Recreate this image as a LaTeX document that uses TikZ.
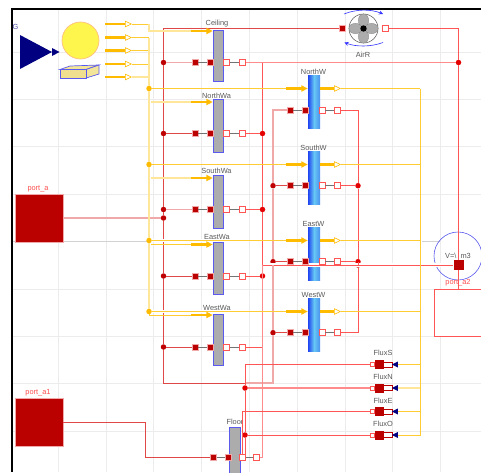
\documentclass[tikz,border=0pt]{standalone}
\usepackage{xcolor}
\usepackage{fontspec}
\setmainfont{Liberation Sans}
\usetikzlibrary{positioning,arrows.meta,shapes.geometric,calc}

\definecolor{heat}{HTML}{BB0000}
\definecolor{wirered}{HTML}{FF5555}
\definecolor{wirebrick}{HTML}{E04848}
\definecolor{wirepale}{HTML}{F0A8A8}
\definecolor{solar}{HTML}{FFCC33}
\definecolor{solarpale}{HTML}{FFE699}
\definecolor{solarthick}{HTML}{FFBB00}
\definecolor{wallblue}{HTML}{5A5AEE}
\definecolor{navyin}{HTML}{000080}
\definecolor{glassedge}{HTML}{2044F0}
\definecolor{glassside}{HTML}{4A90EE}
\definecolor{glassmid}{HTML}{66C8F5}

\begin{document}
\begin{tikzpicture}[
  x=1pt, y=-1pt,
  gridline/.style={draw=gray!15, line width=0.8pt},
  frameline/.style={draw=black, line width=2pt},
  wall/.style={rectangle, draw=wallblue, fill=gray!65, line width=0.8pt, minimum width=10.5pt, inner sep=0pt},
  glazing/.style={rectangle, left color=glassedge, right color=glassside, middle color=glassmid, minimum width=12pt, inner sep=0pt},
  portfill/.style={rectangle, draw=wirepale, fill=heat, line width=0.6pt, minimum size=6pt, inner sep=0pt},
  portopen/.style={rectangle, draw=wirered, fill=white, line width=0.7pt, minimum size=6pt, inner sep=0pt},
  bigport/.style={rectangle, draw=wirepale, fill=heat, line width=0.5pt, minimum size=48pt, inner sep=0pt},
  dotred/.style={circle, fill=red!90!black, minimum size=5.5pt, inner sep=0pt},
  dotdark/.style={circle, fill=red!75!black, minimum size=5.5pt, inner sep=0pt},
  dotsolar/.style={circle, fill=solarthick, minimum size=5.5pt, inner sep=0pt},
  tag/.style={font=\fontsize{7.4}{8}\selectfont, text=black!65, inner sep=0pt},
  redtag/.style={font=\fontsize{7.4}{8}\selectfont, text=red!70, inner sep=0pt},
  wire/.style={draw=wirered, line width=0.9pt},
  wirebr/.style={draw=wirebrick, line width=0.9pt},
  wirewide/.style={draw=wirepale, line width=1.4pt},
  link/.style={draw=black!55, line width=0.8pt},
  sol/.style={draw=solar, line width=0.9pt},
  solwide/.style={draw=solarpale, line width=1.2pt},
  halo/.style={draw=white, line width=3.6pt},
  flow/.style={-{Triangle[length=6.5pt,width=6pt]}, draw=solarthick, fill=solarthick, line width=2.2pt},
  flowout/.style={-{Triangle[open,fill=white,length=7pt,width=6.5pt,line width=0.6pt]}, draw=solarthick, line width=2.2pt},
  fluxblock/.style={rectangle, fill=heat, minimum width=9pt, minimum height=9pt, inner sep=0pt},
  fluxbar/.style={rectangle, draw=heat, fill=white, line width=0.8pt, minimum width=9pt, minimum height=5pt, inner sep=0pt},
  fluxport/.style={rectangle, draw=wirered, fill=white, line width=0.5pt, minimum width=4pt, minimum height=4pt, inner sep=0pt},
  fluxtip/.style={isosceles triangle, isosceles triangle stretches, shape border rotate=180, fill=navyin, minimum height=6pt, minimum width=6pt, inner sep=0pt}
]
\useasboundingbox (0,0) rectangle (481,472);

% Grid
\draw[gridline] (58,9) -- (58,472) (106,9) -- (106,472) (153,9) -- (153,472) (201,9) -- (201,472)
  (249,9) -- (249,472) (297,9) -- (297,472) (345,9) -- (345,472) (392,9) -- (392,472) (440,9) -- (440,472);
\draw[gridline] (12,52) -- (481,52) (12,99) -- (481,99) (12,146) -- (481,146) (12,194) -- (481,194)
  (12,289) -- (481,289) (12,336) -- (481,336) (12,383) -- (481,383) (12,431) -- (481,431);
\draw[draw=gray!35, line width=0.8pt] (12,241) -- (149,241) (422,241) -- (440,241);
\draw[frameline] (12,472) -- (12,9) -- (481,9);

% Weather
\node[tag, text=navyin!70] (gLabel) at (15.5,27) {G};
\fill[navyin] (20,35) -- (52,52) -- (20,69) -- cycle;
\fill[navyin] (52,48) -- (59.5,52) -- (52,56) -- cycle;
\node[circle, draw=orange!50, fill=yellow!70, line width=0.7pt, minimum size=37pt, inner sep=0pt] (sun) at (80.5,40.5) {};
\draw[draw=wallblue, fill=brown!45!yellow!45, line width=0.7pt] (60,69.5) -- (70,66) -- (99,65) -- (86,69.5) -- cycle;
\draw[draw=wallblue, fill=brown!45!yellow!45, line width=0.7pt] (86,69.5) -- (99,65) -- (99,74) -- (86,78) -- cycle;
\draw[draw=wallblue, fill=brown!50!yellow!50, line width=0.7pt] (60,69.5) rectangle (86,78);

% Labels of the surfaces
\node[tag] (ceilT) at (217,24) {Ceiling};
\node[tag] (nwallT) at (216.5,95.5) {NorthWa};
\node[tag] (swallT) at (216.5,171) {SouthWa};
\node[tag] (ewallT) at (217,237) {EastWa};
\node[tag] (wwallT) at (217,308) {WestWa};
\node[tag] (floorT) at (235,422) {Floor};
\node[tag] (nwinT) at (313.5,72) {NorthW};
\node[tag] (swinT) at (313.5,148) {SouthW};
\node[tag] (ewinT) at (313.5,224) {EastW};
\node[tag] (wwinT) at (313.5,295) {WestW};
\node[tag] (airT) at (363,55) {AirR};

% Windows
\node[glazing, minimum height=53pt] (nwin) at (314,102) {};
\node[glazing, minimum height=53pt] (swin) at (314,177.5) {};
\node[glazing, minimum height=53pt] (ewin) at (314,253.5) {};
\node[glazing, minimum height=53pt] (wwin) at (314,324.5) {};

% Junctions
\node[dotdark] (ceilJ) at (163.5,62.5) {};
\node[dotdark] (nwallJ) at (163.5,133.5) {};
\node[dotdark] (swallJ) at (163.5,209.5) {};
\node[dotdark] (portJ) at (163.5,218) {};
\node[dotdark] (ewallJ) at (163.5,276) {};
\node[dotdark] (wwallJ) at (163.5,347) {};
\node[dotred] (nJ) at (262.5,133.5) {};
\node[dotred] (sJ) at (262.5,209.5) {};
\node[dotred] (eJ) at (262.5,276) {};
\node[dotdark] (sJl) at (273,185.7) {};
\node[dotdark] (eJl) at (273,261.7) {};
\node[dotdark] (wJl) at (273,332.7) {};
\node[dotred] (sJr) at (358,185.7) {};
\node[dotred] (eJr) at (358,261.7) {};
\node[dotred] (xJr) at (358,265) {};
\node[dotred] (airJ) at (458.5,62.5) {};
\node[dotred] (fJn) at (245,388) {};
\node[dotred] (fJo) at (245,435) {};
\coordinate (netTL) at (163.5,28);
\coordinate (netBL) at (163.5,383);
\coordinate (netBM) at (245,383);
\coordinate (netBR) at (273,383);
\coordinate (netN) at (262.5,62.5);
\coordinate (netX) at (262.5,265);
\coordinate (feedA) at (145.5,422);
\coordinate (feedB) at (145.5,457.5);

% Ports
\node[bigport] (portA) at (39,218) {};
\node[redtag] (portAT) at (38,189) {port\_a};
\node[bigport] (portB) at (39,422) {};
\node[redtag] (portBT) at (38,392.5) {port\_a1};
\node[rectangle, draw=wirered, fill=white, line width=0.8pt, minimum width=48pt, minimum height=47pt, inner sep=0pt] (portC) at (458.5,312.5) {};
\node[circle, draw=wallblue, line width=0.6pt, minimum size=48pt, inner sep=0pt, font=\fontsize{7.4}{8}\selectfont, text=black!65] (vol) at (458,256) {V=\textbackslash\ \ m3};
\node[rectangle, fill=heat, minimum size=10pt, inner sep=0pt] (volP) at (458.5,265) {};
\node[redtag] (portCT) at (458,283) {port\_a2};

% Line with a white margin through the window
\draw[halo] (netX) -- (volP);
\draw[wire] (netX) -- (volP);

% Fan
\node[portfill, draw=wirered!50] (fanA) at (342.5,28) {};
\node[portopen] (fanB) at (385,28) {};
\node[circle, draw=black!60, fill=white, line width=0.6pt, minimum size=29pt, inner sep=0pt] (fan) at (363.5,28.5) {};
\fill[gray!65, draw=black!50, line width=0.3pt] (363.5,20.5) ellipse (5.2pt and 6.6pt);
\fill[gray!65, draw=black!50, line width=0.3pt] (363.5,36.5) ellipse (5.2pt and 6.6pt);
\fill[gray!65, draw=black!50, line width=0.3pt] (355.5,28.5) ellipse (6.6pt and 5.2pt);
\fill[gray!65, draw=black!50, line width=0.3pt] (371.5,28.5) ellipse (6.6pt and 5.2pt);
\fill[black] (fan.center) circle (3.2pt);
\draw[-{Stealth[length=4pt,width=4pt]}, blue!80, line width=0.6pt] (344,14) .. controls (356,9) and (371,9) .. (383,14);
\draw[-{Stealth[length=4pt,width=4pt]}, blue!80, line width=0.6pt] (383,42.5) .. controls (371,47) and (356,47) .. (344.5,42.5);

% Net across the walls and the zone
\draw[wire] (fanB) -| (airJ);
\draw[wire] (airJ) -- (volP);
\draw[wire] (volP) -- (portC.north);
\draw[wirebr] (fanA) -- (netTL) -- (ceilJ);
\draw[wirebr] (ceilJ) -- (nwallJ);
\draw[wirebr] (nwallJ) -- (swallJ);
\draw[wirebr] (swallJ) -- (portJ);
\draw[wirebr] (portJ) -- (ewallJ);
\draw[wirebr] (ewallJ) -- (wwallJ);
\draw[wirebr] (wwallJ) -- (netBL) -- (netBM);
\draw[wirewide] (netBM) -- (netBR) -- (wJl);
\draw[wirewide] (wJl) -- (eJl);
\draw[wirewide] (eJl) -- (sJl);
\draw[wirewide] (portA) -- (portJ);
\draw[wirebr] (portB.east |- feedA) -- (feedA) -- (feedB);

% Walls
\node[wall, minimum height=51pt] (ceil) at (218.5,55.5) {};
\node[wall, minimum height=53pt] (nwall) at (218.5,125.5) {};
\node[wall, minimum height=53pt] (swall) at (218.5,201.5) {};
\node[wall, minimum height=52pt] (ewall) at (218.5,268) {};
\node[wall, minimum height=51pt] (wwall) at (218.5,339.5) {};
\node[wall, minimum height=50pt] (floor) at (235,452) {};

% Wall connectors
\node[portfill] (ceilA) at (195,62.5) {};
\node[portfill] (ceilB) at (210.3,62.5) {};
\node[portopen] (ceilC) at (226.7,62.5) {};
\node[portopen] (ceilD) at (242.5,62.5) {};
\node[portfill] (nwallA) at (195,133.5) {};
\node[portfill] (nwallB) at (210.3,133.5) {};
\node[portopen] (nwallC) at (226.7,133.5) {};
\node[portopen] (nwallD) at (242.5,133.5) {};
\node[portfill] (swallA) at (195,209.5) {};
\node[portfill] (swallB) at (210.3,209.5) {};
\node[portopen] (swallC) at (226.7,209.5) {};
\node[portopen] (swallD) at (242.5,209.5) {};
\node[portfill] (ewallA) at (195,276) {};
\node[portfill] (ewallB) at (210.3,276) {};
\node[portopen] (ewallC) at (226.7,276) {};
\node[portopen] (ewallD) at (242.5,276) {};
\node[portfill] (wwallA) at (195,347) {};
\node[portfill] (wwallB) at (210.3,347) {};
\node[portopen] (wwallC) at (226.7,347) {};
\node[portopen] (wwallD) at (242.5,347) {};
\node[portfill] (floorA) at (213.7,457.5) {};
\node[portfill] (floorB) at (228,457.5) {};
\node[portopen] (floorC) at (242.5,457.5) {};
\node[portopen] (floorD) at (256.5,457.5) {};

\draw[wirewide] (ceilJ) -- (ceilA);
\draw[link] (ceilA) -- (ceilB);
\draw[link] (ceilC) -- (ceilD);
\draw[wirebr] (nwallJ) -- (nwallA);
\draw[link] (nwallA) -- (nwallB);
\draw[link] (nwallC) -- (nwallD);
\draw[wirewide] (swallJ) -- (swallA);
\draw[link] (swallA) -- (swallB);
\draw[link] (swallC) -- (swallD);
\draw[wirebr] (ewallJ) -- (ewallA);
\draw[link] (ewallA) -- (ewallB);
\draw[link] (ewallC) -- (ewallD);
\draw[wirebr] (wwallJ) -- (wwallA);
\draw[link] (wwallA) -- (wwallB);
\draw[link] (wwallC) -- (wwallD);
\draw[wirebr] (feedB) -- (floorA);
\draw[link] (floorA) -- (floorB);
\draw[link] (floorC) -- (floorD);

\draw[wirewide, draw=red!45] (ceilD) -- (airJ);
\draw[wire] (netN) -- (nJ);
\draw[wire] (nJ) -- (sJ);
\draw[wire] (sJ) -- (netX);
\draw[wire] (nwallD) -- (nJ);
\draw[wire] (swallD) -- (sJ);
\draw[wire] (ewallD) -- (eJ);
\draw[wire] (wwallD) -- (wwallD -| netX);
\draw[wirewide, draw=red!45] (floorD) -| (netX);

% Window connectors
\node[portfill] (nwinA) at (290,110) {};
\node[portfill] (nwinB) at (305.7,110) {};
\node[portopen] (nwinC) at (322,110) {};
\node[portopen] (nwinD) at (337.7,110) {};
\node[portfill] (swinA) at (290,185.7) {};
\node[portfill] (swinB) at (305.7,185.7) {};
\node[portopen] (swinC) at (322,185.7) {};
\node[portopen] (swinD) at (337.7,185.7) {};
\node[portfill] (ewinA) at (290,261.7) {};
\node[portfill] (ewinB) at (305.7,261.7) {};
\node[portopen] (ewinC) at (322,261.7) {};
\node[portopen] (ewinD) at (337.7,261.7) {};
\node[portfill] (wwinA) at (290,332.7) {};
\node[portfill] (wwinB) at (305.7,332.7) {};
\node[portopen] (wwinC) at (322,332.7) {};
\node[portopen] (wwinD) at (337.7,332.7) {};

\draw[wirewide] (sJl) |- (nwinA);
\draw[link] (nwinA) -- (nwinB);
\draw[link] (nwinC) -- (nwinD);
\draw[wirebr] (sJl) -- (swinA);
\draw[link] (swinA) -- (swinB);
\draw[link] (swinC) -- (swinD);
\draw[wirebr] (eJl) -- (ewinA);
\draw[link] (ewinA) -- (ewinB);
\draw[link] (ewinC) -- (ewinD);
\draw[wirebr] (wJl) -- (wwinA);
\draw[link] (wwinA) -- (wwinB);
\draw[link] (wwinC) -- (wwinD);
\draw[wire] (nwinD) -| (sJr);
\draw[wire] (sJr) -- (eJr);
\draw[wire] (eJr) -- (xJr);
\draw[wire] (xJr) |- (wwinD);
\draw[wire] (swinD) -- (sJr);
\draw[wire] (ewinD) -- (eJr);

% Solar bus
\node[dotsolar] (busN) at (149,88.5) {};
\node[dotsolar] (busS) at (149,164.5) {};
\node[dotsolar] (busE) at (149,240.5) {};
\node[dotsolar] (busW) at (149,311.5) {};
\coordinate (sunA) at (105,24);
\coordinate (sunAt) at (132,24);
\coordinate (sunB) at (105,37.5);
\coordinate (sunBt) at (132,37.5);
\coordinate (sunC) at (105,50.5);
\coordinate (sunCt) at (132,50.5);
\coordinate (sunD) at (105,64);
\coordinate (sunDt) at (132,64);
\coordinate (sunE) at (105,77);
\coordinate (sunEt) at (132,77);
\coordinate (busTop) at (149,24);
\coordinate (rail) at (420,88.5);
\coordinate (cutE) at (240,240.5);
\coordinate (cutW) at (240,311.5);
\coordinate (ceilIn) at (191,31);
\coordinate (nwallIn) at (191,102);
\coordinate (nwallOut) at (151,102);
\coordinate (swallIn) at (191,178);
\coordinate (swallOut) at (151,178);
\coordinate (ewallIn) at (191,244.5);
\coordinate (ewallOut) at (151,244.5);
\coordinate (wwallIn) at (191,315);
\coordinate (nwinIn) at (286,88.5);
\coordinate (nwinOut) at (341,88.5);
\coordinate (swinIn) at (286,164.5);
\coordinate (swinOut) at (341,164.5);
\coordinate (ewinIn) at (286,240.5);
\coordinate (ewinOut) at (341,240.5);
\coordinate (wwinIn) at (286,311.5);
\coordinate (wwinOut) at (341,311.5);

\draw[sol] (sunAt) -- (busTop);
\draw[solwide] (busTop) -- (busTop |- ceilIn) -- (ceilIn);
\draw[sol] (sunBt) -- (sunBt -| busTop);
\draw[sol] (sunCt) -- (sunCt -| busTop);
\draw[sol] (sunDt) -- (sunDt -| busTop);
\draw[solwide] (sunEt) -- (sunEt -| busTop);
\draw[solwide] (sunBt -| busTop) -- (busN);
\draw[solwide] (busN) -- (busS);
\draw[solwide] (busS) -- (busE);
\draw[solwide] (busE) -- (busW);
\draw[halo] (busE) -- (cutE);
\draw[sol] (busE) -- (cutE);
\draw[halo] (busW) -- (cutW);
\draw[sol] (busW) -- (cutW);
\draw[sol] (cutE) -- (ewinIn);
\draw[sol] (cutW) -- (wwinIn);
\draw[sol] (busN) -- (nwinIn);
\draw[sol] (busS) -- (swinIn);
\draw[sol] (nwinOut) -- (rail);
\draw[sol] (swinOut) -- (swinOut -| rail);
\draw[sol] (ewinOut) -- (ewinOut -| rail);
\draw[sol] (wwinOut) -- (wwinOut -| rail);
\draw[solwide] (nwallOut) -- (nwallIn);
\draw[solwide] (swallOut) -- (swallIn);
\draw[sol] (ewallOut) -- (ewallIn);
\draw[sol] (busW) |- (wwallIn);

\draw[flowout] (sunA) -- (sunAt);
\draw[flowout] (sunB) -- (sunBt);
\draw[flowout] (sunC) -- (sunCt);
\draw[flowout] (sunD) -- (sunDt);
\draw[flowout] (sunE) -- (sunEt);
\draw[flow] (ceilIn) -- (ceilIn -| ceil.west);
\draw[flow] (nwallIn) -- (nwallIn -| nwall.west);
\draw[flow] (swallIn) -- (swallIn -| swall.west);
\draw[flow] (ewallIn) -- (ewallIn -| ewall.west);
\draw[flow] (wwallIn) -- (wwallIn -| wwall.west);
\draw[flow] (nwinIn) -- (nwinIn -| nwin.west);
\draw[flow] (swinIn) -- (swinIn -| swin.west);
\draw[flow] (ewinIn) -- (ewinIn -| ewin.west);
\draw[flow] (wwinIn) -- (wwinIn -| wwin.west);
\draw[flowout] (nwinIn -| nwin.east) -- (nwinOut);
\draw[flowout] (swinIn -| swin.east) -- (swinOut);
\draw[flowout] (ewinIn -| ewin.east) -- (ewinOut);
\draw[flowout] (wwinIn -| wwin.east) -- (wwinOut);

% Flux blocks
\node[tag] (fluxST) at (383,353) {FluxS};
\node[fluxport] (fluxSa) at (372.5,364.5) {};
\node[fluxblock] (fluxSb) at (379,364.5) {};
\node[fluxbar] (fluxSc) at (388,364.5) {};
\node[fluxtip] (fluxSd) at (396,364.5) {};
\node[tag] (fluxNT) at (383,377) {FluxN};
\node[fluxport] (fluxNa) at (372.5,388) {};
\node[fluxblock] (fluxNb) at (379,388) {};
\node[fluxbar] (fluxNc) at (388,388) {};
\node[fluxtip] (fluxNd) at (396,388) {};
\node[tag] (fluxET) at (383,400.5) {FluxE};
\node[fluxport] (fluxEa) at (372.5,411.5) {};
\node[fluxblock] (fluxEb) at (379,411.5) {};
\node[fluxbar] (fluxEc) at (388,411.5) {};
\node[fluxtip] (fluxEd) at (396,411.5) {};
\node[tag] (fluxOT) at (383,424) {FluxO};
\node[fluxport] (fluxOa) at (372.5,435) {};
\node[fluxblock] (fluxOb) at (379,435) {};
\node[fluxbar] (fluxOc) at (388,435) {};
\node[fluxtip] (fluxOd) at (396,435) {};

\draw[sol] (rail) -- (rail |- fluxOd) -- (fluxOd);
\draw[sol] (fluxSd) -- (fluxSd -| rail);
\draw[solwide] (fluxNd) -- (fluxNd -| rail);
\draw[sol] (fluxEd) -- (fluxEd -| rail);

\draw[wire] (fluxSa) -| (fJn);
\draw[wirewide, draw=red!45] (fluxNa) -- (fJn);
\draw[wire] (fluxEa) -| (floorC);
\draw[wire] (fluxOa) -- (fJo);
\draw[wire] (fJn) -- (fJo);
\draw[wire] (fJo) |- (floorC);

\end{tikzpicture}
\end{document}
